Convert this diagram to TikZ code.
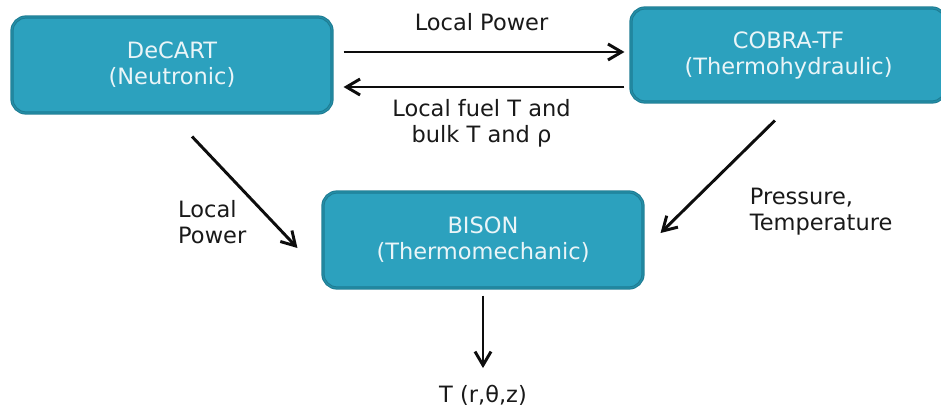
\documentclass[tikz,border=0pt]{standalone}
\usepackage{fontspec}
\setmainfont{DejaVu Sans}
\usetikzlibrary{positioning,arrows.meta}
\definecolor{boxfill}{HTML}{2CA1BE}
\definecolor{boxedge}{HTML}{1E7C93}
\definecolor{boxtext}{HTML}{EAF5F8}
\tikzset{
code/.style={
  rectangle,
  rounded corners=10pt,
  fill=boxfill,
  draw=boxedge,
  double=boxedge!55!boxfill,
  line width=0.7pt,
  double distance=0.9pt,
  text=boxtext,
  align=center,
  minimum width=8cm,
  minimum height=2.4cm,
  font=\fontsize{16pt}{18.5pt}\selectfont
  },
lbl/.style={
  text=black!90,
  inner sep=3pt,
  font=\fontsize{16pt}{18.5pt}\selectfont
  },
flow/.style={
  -{Straight Barb[length=3.4mm,width=4mm]},
  line width=2.1pt,
  draw=black!95
  }
}

\begin{document}
\begin{tikzpicture}[x=0.025cm,y=-0.025cm]
\useasboundingbox (0,0) rectangle (941,408);

\node[code] (decart) at (172,65) {DeCART\\(Neutronic)};
\node[code,minimum width=7.875cm,minimum height=2.35cm] (cobra) at (788.5,55) {COBRA-TF\\(Thermohydraulic)};
\node[code] (bison) at (483,240) {BISON\\(Thermomechanic)};

\node[lbl] (temp) at (483,395.5) {T (r,θ,z)};

% coupling between the codes
\draw[flow,shorten <=0.275cm,shorten >=0.15cm] ([yshift=0.325cm]decart.east) -- ([yshift=0.325cm]decart.east -| cobra.west)
  node[lbl,midway,above=0.38cm] (power1) {Local Power};
\draw[flow,shorten <=0.15cm,shorten >=0.275cm] ([yshift=-0.55cm]decart.east -| cobra.west) -- ([yshift=-0.55cm]decart.east)
  node[lbl,midway,below=0.16cm,align=center] (fuelT) {Local fuel T and\\bulk T and ρ};

\draw[flow] ([xshift=0.5cm,yshift=-0.575cm]decart.south) -- ([xshift=-0.625cm,yshift=-0.2cm]bison.west)
  node[lbl,midway,anchor=north east,align=left,xshift=0.18cm,yshift=-0.05cm] (power2) {Local\\Power};
\draw[flow] ([xshift=-0.34cm,yshift=-0.45cm]cobra.south) -- ([xshift=0.425cm,yshift=0.175cm]bison.east)
  node[lbl,midway,anchor=north west,align=left,xshift=0.66cm,yshift=-0.13cm] (press) {Pressure,\\Temperature};

\draw[flow,shorten <=0.175cm,shorten >=0.32cm] (bison.south) -- (temp.north);
\end{tikzpicture}
\end{document}
